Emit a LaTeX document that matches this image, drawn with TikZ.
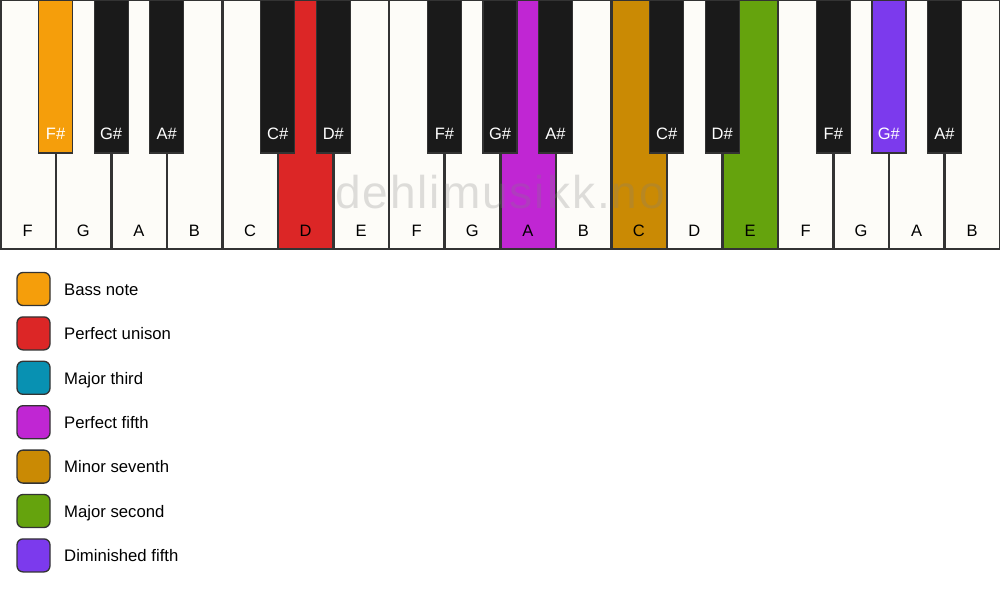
\documentclass[tikz,border=0pt]{standalone}
\usepackage{fontspec}
\setmainfont{Liberation Sans}
\newfontfamily\wmfont[LetterSpace=4.3]{Liberation Sans}
\definecolor{wkey}{HTML}{FDFCF8}
\definecolor{bkey}{HTML}{1A1A1A}
\definecolor{edge}{HTML}{333333}
\definecolor{cBass}{HTML}{F59E0B}
\definecolor{cUni}{HTML}{DC2626}
\definecolor{cThird}{HTML}{0891B2}
\definecolor{cFifth}{HTML}{C026D3}
\definecolor{cSev}{HTML}{CA8A04}
\definecolor{cSec}{HTML}{65A30D}
\definecolor{cDim}{HTML}{7C3AED}
\tikzset{
  whitekey/.style={draw=edge, line width=1.5pt, fill=wkey},
  blackkey/.style={draw=edge, line width=1.2pt, fill=bkey},
  wlabel/.style={font=\fontsize{16.5}{18}\selectfont, text=black, inner sep=0pt, anchor=base},
  blabel/.style={font=\fontsize{16.5}{18}\selectfont, text=white, inner sep=0pt, anchor=base},
  legbox/.style={draw=edge, line width=1.3pt, rounded corners=6pt, minimum width=33pt, minimum height=33pt, inner sep=0pt},
  legtext/.style={font=\fontsize{16.7}{18}\selectfont, anchor=base west, inner sep=0pt},
  watermark/.style={font=\wmfont\fontsize{46}{50}\selectfont, text=gray, text opacity=0.25, inner sep=0pt}
}
\begin{document}
\begin{tikzpicture}[x=1pt,y=-1pt]
\useasboundingbox (0,0) rectangle (1000,594);
\fill[white] (0,0) rectangle (1000,594);
\def\w{55.5556}
% white keys
\foreach \i/\n/\c in {0/F/wkey,1/G/wkey,2/A/wkey,3/B/wkey,4/C/wkey,5/D/cUni,6/E/wkey,7/F/wkey,8/G/wkey,9/A/cFifth,10/B/wkey,11/C/cSev,12/D/wkey,13/E/cSec,14/F/wkey,15/G/wkey,16/A/wkey,17/B/wkey}{
  \draw[whitekey, fill=\c] ({\i*\w+0.75},0.75) rectangle ({(\i+1)*\w-0.25},249);
  \node[wlabel] (w\i) at ({(\i+0.5)*\w},236) {\n};
}
% watermark
\node[watermark, anchor=base] (wm) at (500,208) {dehlimusikk.no};
% black keys
\foreach \b/\n/\c in {1/F\#/cBass,2/G\#/bkey,3/A\#/bkey,5/C\#/bkey,6/D\#/bkey,8/F\#/bkey,9/G\#/bkey,10/A\#/bkey,12/C\#/bkey,13/D\#/bkey,15/F\#/bkey,16/G\#/cDim,17/A\#/bkey}{
  \draw[blackkey, fill=\c] ({\b*\w-17},0) rectangle ({\b*\w+17},153);
  \node[blabel] (b\b) at ({\b*\w},139) {\n};
}
% legend
\foreach \k/\c/\t in {0/cBass/Bass note,1/cUni/Perfect unison,2/cThird/Major third,3/cFifth/Perfect fifth,4/cSev/Minor seventh,5/cSec/Major second,6/cDim/Diminished fifth}{
  \node[legbox, fill=\c] (lb\k) at (33.5,{289+44.4*\k}) {};
  \node[legtext] (lt\k) at (64,{295.2+44.4*\k}) {\t};
}
\end{tikzpicture}
\end{document}
